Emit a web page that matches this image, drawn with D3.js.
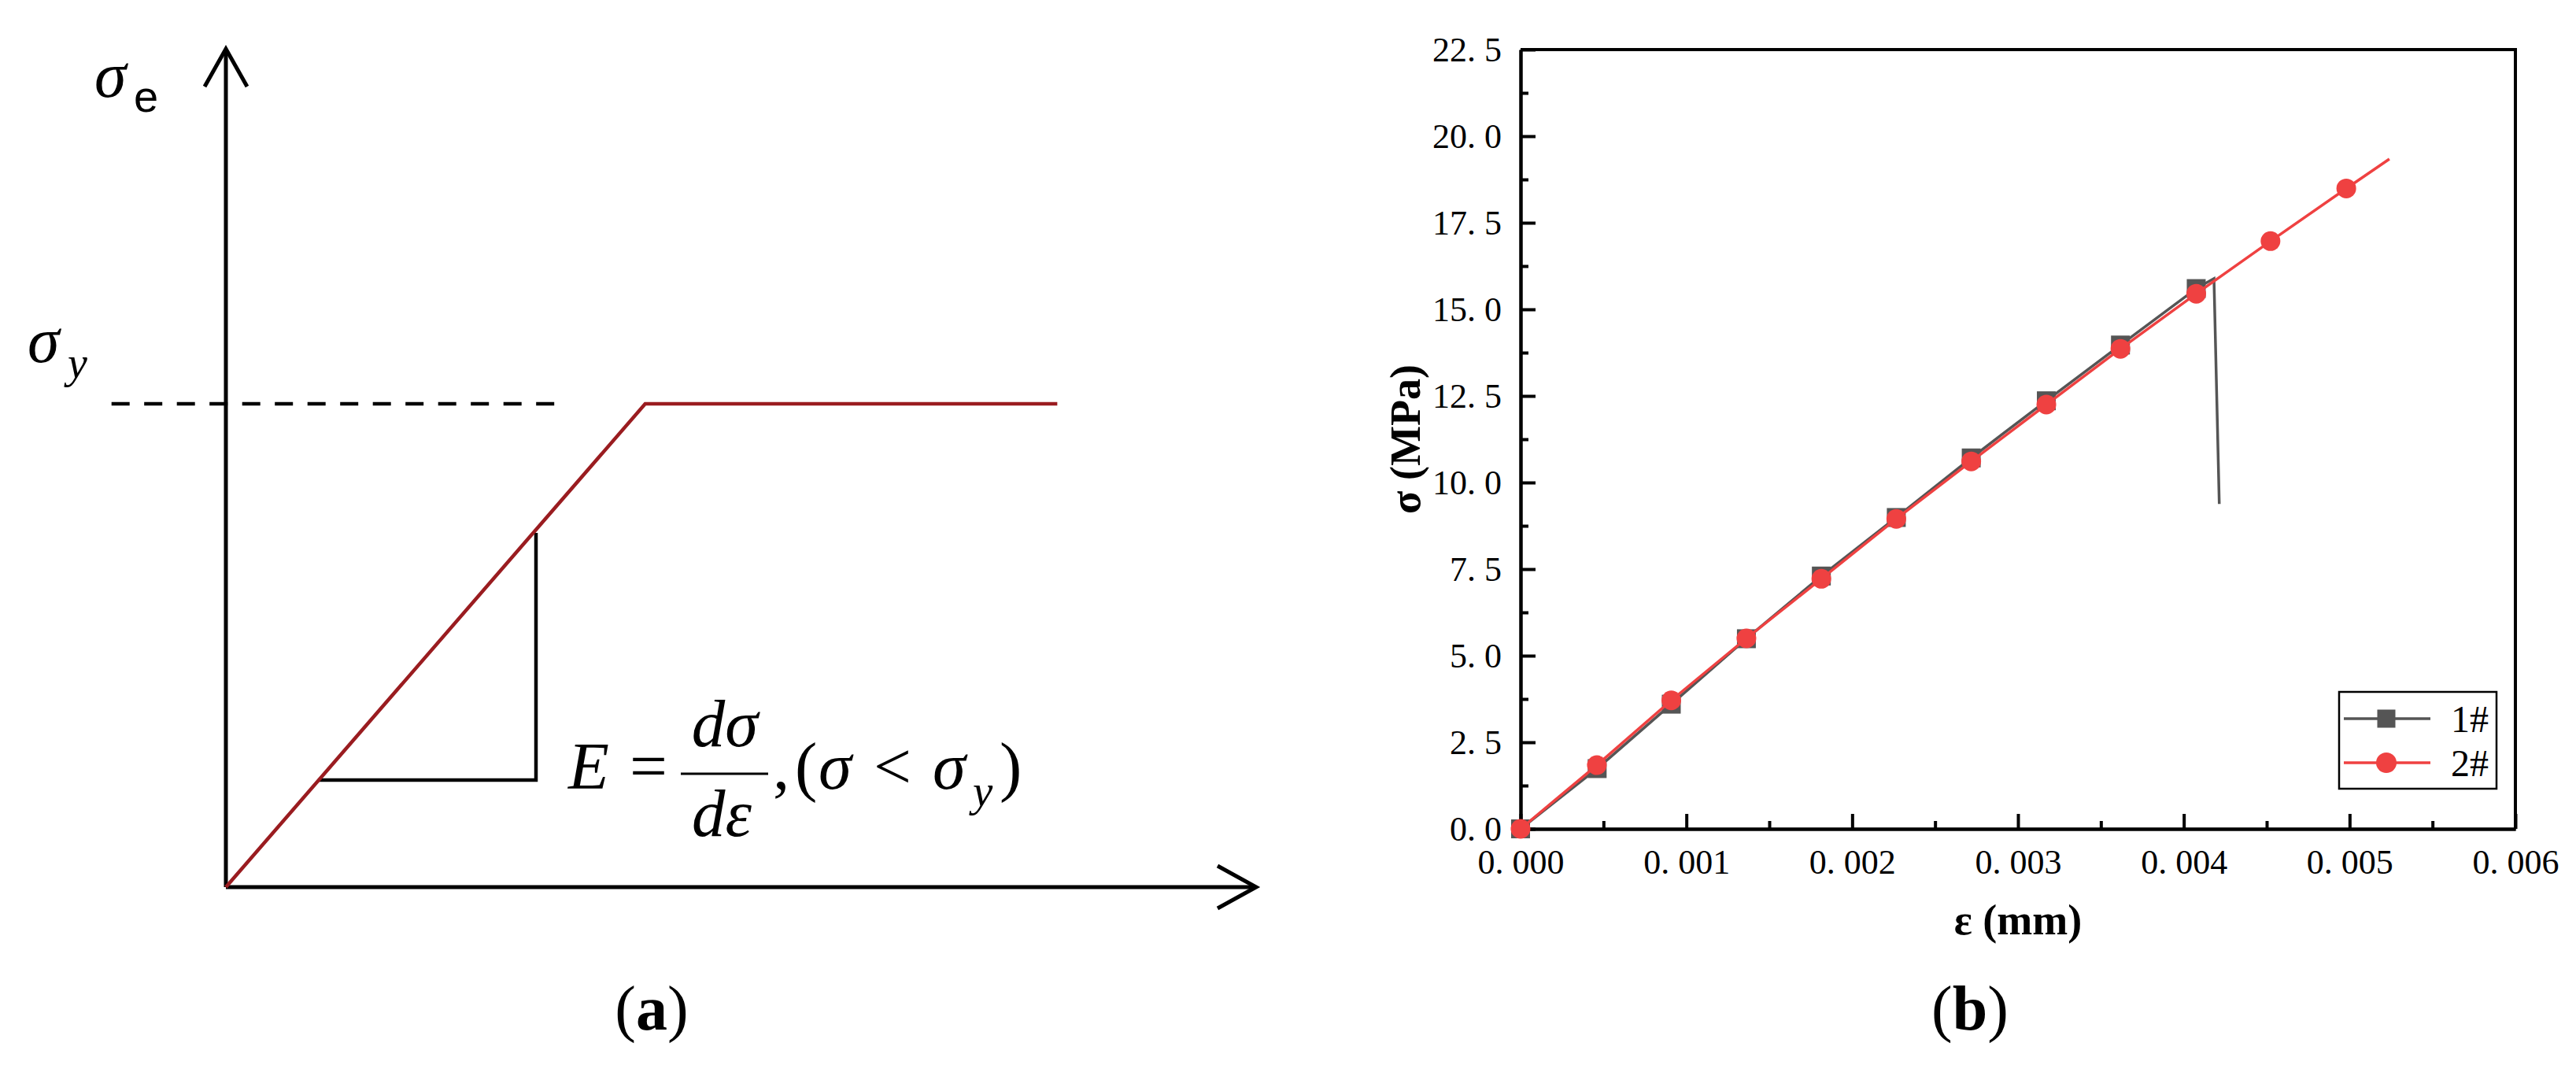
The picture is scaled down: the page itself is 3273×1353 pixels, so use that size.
<!DOCTYPE html>
<html>
<head>
<meta charset="utf-8">
<script src="https://cdn.jsdelivr.net/npm/d3@7"></script>
<style>
  body { margin: 0; background: #fff; }
  svg { display: block; }
</style>
</head>
<body>
<div id="chart"></div>
<script>
// ---------- panel (a): schematic elastic / perfectly plastic curve ----------
const curveA = [[0, 0], [0.407, 0.5765], [0.807, 0.5765]];
const yieldDash = [[-0.111, 0.5765], [0.319, 0.5765]];
const slopeTri = [[0.090, 0.1276], [0.301, 0.1276], [0.301, 0.4225]];

// ---------- panel (b): measured stress-strain ----------
const eps1 = [0, 0.000462, 0.000909, 0.001362, 0.001814, 0.002266, 0.002718, 0.003171, 0.003618, 0.004075];
const sig1 = [0, 1.74, 3.60, 5.49, 7.30, 8.99, 10.71, 12.36, 13.97, 15.60];
const tail1 = [[0.004182, 15.89], [0.004214, 9.38]];   // fracture drop, no symbols

const eps2 = [0, 0.000460, 0.000909, 0.001362, 0.001814, 0.002266, 0.002718, 0.003171, 0.003618, 0.004075, 0.004523, 0.004980];
const sig2 = [0, 1.84, 3.71, 5.50, 7.22, 8.95, 10.61, 12.25, 13.86, 15.45, 16.97, 18.49];
const tail2 = [[0.005240, 19.34]];

const seriesNames = ["1#", "2#"];
const xTicks = [0, 0.001, 0.002, 0.003, 0.004, 0.005, 0.006];
const xMinor = [0.0005, 0.0015, 0.0025, 0.0035, 0.0045, 0.0055];
const yTicks = [0, 2.5, 5, 7.5, 10, 12.5, 15, 17.5, 20, 22.5];
const yMinor = [1.25, 3.75, 6.25, 8.75, 11.25, 13.75, 16.25, 18.75, 21.25];

const W = 3273, H = 1353;
const serif = "'Liberation Serif', 'Times New Roman', serif";
const gray = "#555555", red = "#ef4141", darkRed = "#9a1c20";

const svg = d3.select("#chart").append("svg")
  .attr("width", W).attr("height", H)
  .style("background", "#fff");

// ===== panel (a) =====
const sx = d3.scaleLinear().domain([0, 1]).range([287, 1596]);
const sy = d3.scaleLinear().domain([0, 1]).range([1127, 62]);
const lineA = d3.line().x(d => sx(d[0])).y(d => sy(d[1]));

const ga = svg.append("g");

// axes with open arrow heads
ga.append("path").attr("d", lineA([[0, 0], [0, 1]]))
  .attr("stroke", "#000").attr("stroke-width", 5).attr("fill", "none");
ga.append("path").attr("d", lineA([[0, 0], [1, 0]]))
  .attr("stroke", "#000").attr("stroke-width", 5).attr("fill", "none");
ga.append("path")
  .attr("d", `M${sx(0) - 27},${sy(1) + 48} L${sx(0)},${sy(1)} L${sx(0) + 27},${sy(1) + 48}`)
  .attr("stroke", "#000").attr("stroke-width", 5).attr("fill", "none");
ga.append("path")
  .attr("d", `M${sx(1) - 49},${sy(0) - 27} L${sx(1)},${sy(0)} L${sx(1) - 49},${sy(0) + 27}`)
  .attr("stroke", "#000").attr("stroke-width", 5).attr("fill", "none");

ga.append("path").attr("d", lineA(yieldDash))
  .attr("stroke", "#000").attr("stroke-width", 4.5)
  .attr("stroke-dasharray", "23,18.5").attr("fill", "none");

ga.append("path").attr("d", lineA(slopeTri))
  .attr("stroke", "#000").attr("stroke-width", 4.5).attr("fill", "none");

ga.append("path").attr("d", lineA(curveA))
  .attr("stroke", darkRed).attr("stroke-width", 4.5)
  .attr("stroke-linejoin", "miter").attr("fill", "none");

// sigma_e, sigma_y labels
ga.append("text").attr("x", 120).attr("y", 123)
  .attr("font-family", serif).attr("font-style", "italic").attr("font-size", 82)
  .text("σ");
ga.append("text").attr("x", 170).attr("y", 142)
  .attr("font-family", "'Liberation Sans', Arial, sans-serif").attr("font-size", 56)
  .text("e");
ga.append("text").attr("x", 35).attr("y", 460)
  .attr("font-family", serif).attr("font-style", "italic").attr("font-size", 82)
  .text("σ");
ga.append("text").attr("x", 86).attr("y", 480)
  .attr("font-family", serif).attr("font-style", "italic").attr("font-size", 56)
  .text("y");

// E = dσ/dε, (σ < σy)
const fs = 85;
const fm = ga.append("g").attr("font-family", serif).attr("font-size", fs);
fm.append("text").attr("x", 722).attr("y", 1002).attr("font-style", "italic").text("E");
fm.append("text").attr("x", 800).attr("y", 1002).text("=");
fm.append("line").attr("x1", 865).attr("x2", 976).attr("y1", 983).attr("y2", 983)
  .attr("stroke", "#000").attr("stroke-width", 3);
fm.append("text").attr("x", 921).attr("y", 948).attr("text-anchor", "middle")
  .attr("font-style", "italic").text("dσ");
fm.append("text").attr("x", 917).attr("y", 1062).attr("text-anchor", "middle")
  .attr("font-style", "italic").text("dε");
fm.append("text").attr("x", 982).attr("y", 1002).text(",");
fm.append("text").attr("x", 1010).attr("y", 1002).text("(");
fm.append("text").attr("x", 1040).attr("y", 1002).attr("font-style", "italic").text("σ");
fm.append("text").attr("x", 1110).attr("y", 1002).text("<");
fm.append("text").attr("x", 1185).attr("y", 1002).attr("font-style", "italic").text("σ");
fm.append("text").attr("x", 1236).attr("y", 1024).attr("font-size", 57)
  .attr("font-style", "italic").text("y");
fm.append("text").attr("x", 1270).attr("y", 1002).text(")");

// caption (a)
const capA = svg.append("text").attr("x", 828).attr("y", 1308)
  .attr("text-anchor", "middle").attr("font-family", serif).attr("font-size", 80);
capA.append("tspan").text("(");
capA.append("tspan").attr("font-weight", "bold").text("a");
capA.append("tspan").text(")");

// ===== panel (b) =====
const x = d3.scaleLinear().domain([0, 0.006]).range([1932, 3196]);
const y = d3.scaleLinear().domain([0, 22.5]).range([1053, 63]);

const gb = svg.append("g");

// split "12.5" so the decimal point gets the wide gap of the original font
function splitLabel(sel, fmt) {
  sel.each(function(d) {
    const s = fmt(d).split(".");
    const t = d3.select(this).text(null);
    t.append("tspan").text(s[0] + ".");
    t.append("tspan").attr("dx", "0.25em").text(s[1]);
  });
}

const xAxis = gb.append("g")
  .attr("transform", `translate(0,${y(0)})`)
  .call(d3.axisBottom(x).tickValues(xTicks).tickSize(-19).tickSizeOuter(0).tickPadding(26));
const yAxis = gb.append("g")
  .attr("transform", `translate(${x(0)},0)`)
  .call(d3.axisLeft(y).tickValues(yTicks).tickSize(-19).tickSizeOuter(0).tickPadding(24));
gb.append("g")
  .attr("transform", `translate(0,${y(0)})`)
  .call(d3.axisBottom(x).tickValues(xMinor).tickSize(-10).tickSizeOuter(0).tickFormat(""));
gb.append("g")
  .attr("transform", `translate(${x(0)},0)`)
  .call(d3.axisLeft(y).tickValues(yMinor).tickSize(-10).tickSizeOuter(0).tickFormat(""));

gb.selectAll(".domain").attr("stroke", "#000").attr("stroke-width", 4);
gb.selectAll(".tick line").attr("stroke", "#000").attr("stroke-width", 4);
xAxis.selectAll(".tick text").attr("font-family", serif).attr("font-size", 44).attr("fill", "#000")
  .call(splitLabel, d3.format(".3f"));
yAxis.selectAll(".tick text").attr("font-family", serif).attr("font-size", 44).attr("fill", "#000")
  .call(splitLabel, d3.format(".1f"));

// top and right frame
gb.append("path")
  .attr("d", `M${x(0)},${y(22.5)} L${x(0.006)},${y(22.5)} L${x(0.006)},${y(0)}`)
  .attr("stroke", "#000").attr("stroke-width", 4).attr("fill", "none");

const line = d3.line().x(d => x(d[0])).y(d => y(d[1]));
const pts1 = eps1.map((e, i) => [e, sig1[i]]);
const pts2 = eps2.map((e, i) => [e, sig2[i]]);

gb.append("path").attr("d", line(pts1.concat(tail1)))
  .attr("stroke", gray).attr("stroke-width", 3.5).attr("fill", "none");
gb.selectAll(".sq").data(pts1).enter().append("rect")
  .attr("class", "sq")
  .attr("x", d => x(d[0]) - 12).attr("y", d => y(d[1]) - 12)
  .attr("width", 24).attr("height", 24).attr("fill", gray);

gb.append("path").attr("d", line(pts2.concat(tail2)))
  .attr("stroke", red).attr("stroke-width", 3.5).attr("fill", "none");
gb.selectAll(".dot").data(pts2).enter().append("circle")
  .attr("class", "dot")
  .attr("cx", d => x(d[0])).attr("cy", d => y(d[1]))
  .attr("r", 12.5).attr("fill", red);

// axis titles
gb.append("text").attr("x", (x(0) + x(0.006)) / 2).attr("y", 1187)
  .attr("text-anchor", "middle").attr("font-family", serif)
  .attr("font-weight", "bold").attr("font-size", 54).text("ε (mm)");
gb.append("text")
  .attr("transform", `translate(1804,${(y(0) + y(22.5)) / 2}) rotate(-90)`)
  .attr("text-anchor", "middle").attr("font-family", serif)
  .attr("font-weight", "bold").attr("font-size", 54).text("σ (MPa)");

// legend
const lg = gb.append("g");
lg.append("rect").attr("x", 2972).attr("y", 879).attr("width", 200).attr("height", 123)
  .attr("fill", "#fff").attr("stroke", "#000").attr("stroke-width", 2.5);
const legendRows = [
  { name: seriesNames[0], color: gray, shape: "square", cy: 913 },
  { name: seriesNames[1], color: red, shape: "circle", cy: 969 }
];
legendRows.forEach(r => {
  lg.append("line").attr("x1", 2978).attr("x2", 3088).attr("y1", r.cy).attr("y2", r.cy)
    .attr("stroke", r.color).attr("stroke-width", 3.5);
  if (r.shape === "square") {
    lg.append("rect").attr("x", 3032 - 11.5).attr("y", r.cy - 11.5)
      .attr("width", 23).attr("height", 23).attr("fill", r.color);
  } else {
    lg.append("circle").attr("cx", 3032).attr("cy", r.cy).attr("r", 13).attr("fill", r.color);
  }
  lg.append("text").attr("x", 3114).attr("y", r.cy + 17)
    .attr("font-family", serif).attr("font-size", 48).text(r.name);
});

// caption (b)
const capB = svg.append("text").attr("x", 2503).attr("y", 1308)
  .attr("text-anchor", "middle").attr("font-family", serif).attr("font-size", 80);
capB.append("tspan").text("(");
capB.append("tspan").attr("font-weight", "bold").text("b");
capB.append("tspan").text(")");
</script>
</body>
</html>
